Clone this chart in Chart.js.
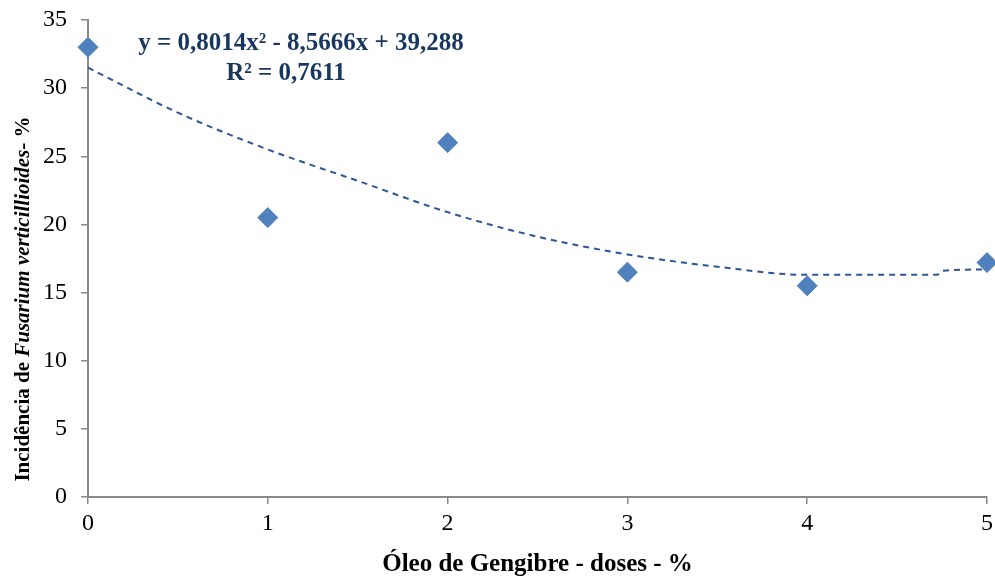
<!DOCTYPE html>
<html>
<head>
<meta charset="utf-8">
<script src="https://cdn.jsdelivr.net/npm/chart.js@4.4.1/dist/chart.umd.min.js"></script>
<style>
  html, body { margin: 0; padding: 0; background: #ffffff; }
  #wrap { position: relative; width: 995px; height: 576px; }
</style>
</head>
<body>
<div id="wrap"><canvas id="chart"></canvas></div>
<script>
// Doses of ginger oil (x) and incidence (%)
const doses = [0, 1, 2, 3, 4, 5];
const incidence = [33, 20.5, 26, 16.5, 15.5, 17.2];

// Trendline
const trendX = [0, 0.5, 1, 1.5, 2, 2.5, 3, 3.5, 4, 4.72, 4.76, 5];
const trendY = [31.5, 28.2, 25.5, 23.2, 20.9, 19.1, 17.8, 16.9, 16.3, 16.3, 16.6, 16.7];

const yTicks = [0, 5, 10, 15, 20, 25, 30, 35];
const xTicks = [0, 1, 2, 3, 4, 5];

const equationText = "y = 0,8014x² - 8,5666x + 39,288";
const r2Text = "R² = 0,7611";
const xTitle = "Óleo de Gengibre - doses - %";
const yTitleParts = [
  { text: "Incidência de ", italic: false },
  { text: "Fusarium verticillioides", italic: true },
  { text: "- %", italic: false },
];

const axisColor = "#898989";
const serif = "'Liberation Serif', 'Times New Roman', serif";

// Draws axis titles and the equation text
const textPlugin = {
  id: "textPlugin",
  afterDraw(chart) {
    const ctx = chart.ctx;
    const area = chart.chartArea;
    ctx.save();

    // x title
    ctx.fillStyle = "#000000";
    ctx.font = "bold 25px " + serif;
    ctx.textAlign = "center";
    ctx.textBaseline = "alphabetic";
    ctx.fillText(xTitle, (area.left + area.right) / 2, 571);

    // y title (mixed bold / bold italic)
    ctx.save();
    ctx.translate(29, 299);
    ctx.rotate(-Math.PI / 2);
    let total = 0;
    yTitleParts.forEach((p) => {
      ctx.font = (p.italic ? "italic " : "") + "bold 21px " + serif;
      total += ctx.measureText(p.text).width;
    });
    let pos = -total / 2;
    ctx.textAlign = "left";
    yTitleParts.forEach((p) => {
      ctx.font = (p.italic ? "italic " : "") + "bold 21px " + serif;
      ctx.fillText(p.text, pos, 0);
      pos += ctx.measureText(p.text).width;
    });
    ctx.restore();

    // equation
    ctx.fillStyle = "#17375E";
    ctx.font = "bold 25px " + serif;
    ctx.textAlign = "center";
    ctx.fillText(equationText, 301, 50);
    ctx.fillText(r2Text, 286, 80);

    ctx.restore();
  },
};

const ctx = document.getElementById("chart");
new Chart(ctx, {
  type: "scatter",
  data: {
    datasets: [
      {
        label: "Incidência",
        data: doses.map((d, i) => ({ x: d, y: incidence[i] })),
        pointStyle: "rectRot",
        pointRadius: 10,
        pointHoverRadius: 10,
        backgroundColor: "#4F81BD",
        borderColor: "#4F81BD",
        borderWidth: 1,
        clip: false,
      },
      {
        label: "Polinomial",
        type: "line",
        data: trendX.map((d, i) => ({ x: d, y: trendY[i] })),
        showLine: true,
        pointRadius: 0,
        borderColor: "#2E5597",
        borderWidth: 2,
        borderDash: [6, 5],
        cubicInterpolationMode: "monotone",
        fill: false,
      },
    ],
  },
  options: {
    responsive: true,
    maintainAspectRatio: false,
    animation: false,
    layout: {
      autoPadding: false,
      padding: { top: 20, right: 8, left: 0, bottom: 0 },
    },
    plugins: {
      legend: { display: false },
      tooltip: { enabled: false },
    },
    scales: {
      x: {
        type: "linear",
        min: 0,
        max: 5,
        afterBuildTicks(scale) {
          scale.ticks = xTicks.map((v) => ({ value: v }));
        },
        afterFit(scale) {
          scale.height = 79;
          scale.paddingLeft = 0;
          scale.paddingRight = 0;
        },
        grid: {
          display: true,
          drawOnChartArea: false,
          drawTicks: true,
          tickLength: 7,
          color: axisColor,
          lineWidth: 1.5,
        },
        border: { display: true, color: axisColor, width: 2 },
        ticks: {
          color: "#000000",
          padding: 5,
          maxRotation: 0,
          font: { family: serif, size: 24 },
        },
      },
      y: {
        type: "linear",
        min: 0,
        max: 35,
        afterBuildTicks(scale) {
          scale.ticks = yTicks.map((v) => ({ value: v }));
        },
        afterFit(scale) {
          scale.width = 88;
          scale.paddingTop = 0;
          scale.paddingBottom = 0;
        },
        grid: {
          display: true,
          drawOnChartArea: false,
          drawTicks: true,
          tickLength: 7,
          color: axisColor,
          lineWidth: 1.5,
        },
        border: { display: true, color: axisColor, width: 2 },
        ticks: {
          color: "#000000",
          padding: 14,
          font: { family: serif, size: 24 },
        },
      },
    },
  },
  plugins: [textPlugin],
});
</script>
</body>
</html>
